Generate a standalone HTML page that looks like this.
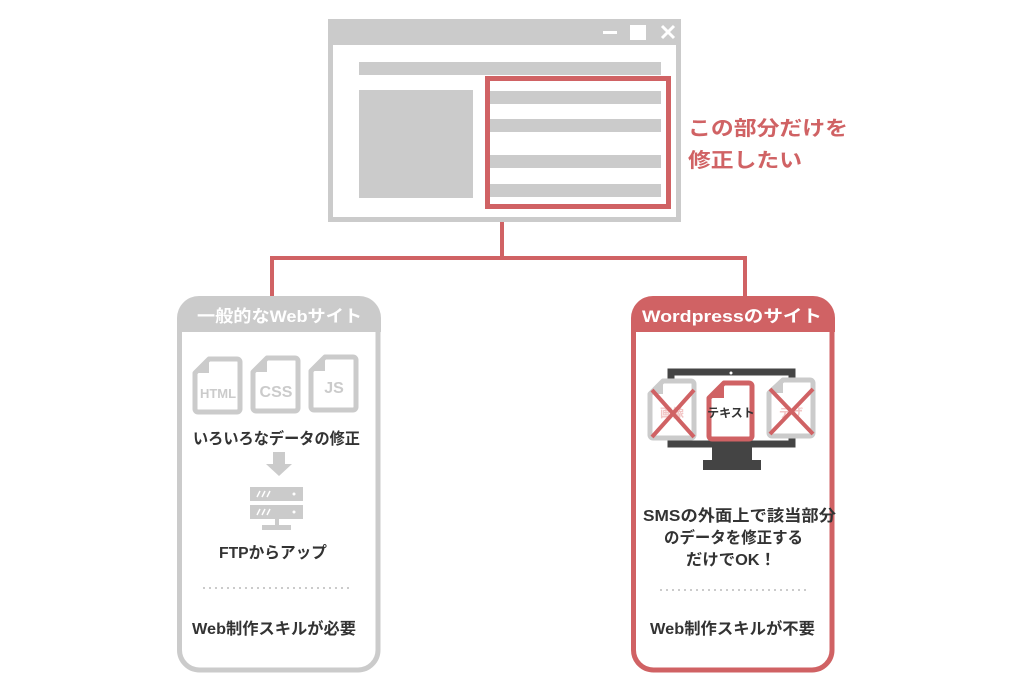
<!DOCTYPE html>
<html><head><meta charset="utf-8"><style>
html,body{margin:0;padding:0;background:#fff;}
svg{display:block}
text{font-family:"Liberation Sans","Noto Sans CJK JP",sans-serif;font-weight:bold}
</style></head><body>
<svg width="1024" height="693" viewBox="0 0 1024 693" xmlns="http://www.w3.org/2000/svg">
<rect x="330.5" y="21.5" width="348" height="198" fill="#fff" stroke="#cbcbcb" stroke-width="5"/>
<rect x="328" y="19" width="353" height="26" fill="#cbcbcb"/>
<rect x="603" y="31" width="14" height="3" fill="#fff"/>
<rect x="630" y="25" width="16" height="15" fill="#fff"/>
<path d="M662 26 L674 38 M674 26 L662 38" stroke="#fff" stroke-width="3"/>
<rect x="359" y="62" width="302" height="13" fill="#cbcbcb"/>
<rect x="359" y="90" width="114" height="108" fill="#cbcbcb"/>
<rect x="489" y="91" width="172" height="13" fill="#cbcbcb"/>
<rect x="489" y="119" width="172" height="13" fill="#cbcbcb"/>
<rect x="489" y="155" width="172" height="13" fill="#cbcbcb"/>
<rect x="489" y="184" width="172" height="13" fill="#cbcbcb"/>
<rect x="487.5" y="78.5" width="181" height="128" fill="none" stroke="#d06264" stroke-width="5"/>
<text x="688" y="135" font-size="20" fill="#d06264" textLength="160" lengthAdjust="spacingAndGlyphs">この部分だけを</text>
<text x="688" y="167" font-size="20" fill="#d06264" textLength="114" lengthAdjust="spacingAndGlyphs">修正したい</text>
<path d="M502 222 V258 M272 258 H745 M272 256 V298 M745 256 V298" stroke="#d06264" stroke-width="4" fill="none"/>
<!-- left card -->
<path d="M179.5 332 V650 a20 20 0 0 0 20 20 H358 a20 20 0 0 0 20 -20 V332" fill="#fff" stroke="#cbcbcb" stroke-width="5"/>
<path d="M177 332 V318 a22 22 0 0 1 22 -22 H359 a22 22 0 0 1 22 22 V332 Z" fill="#cbcbcb"/>
<text x="197" y="322" font-size="17" fill="#fff" textLength="165" lengthAdjust="spacingAndGlyphs">一般的なWebサイト</text>
<g fill="#fff" stroke="#cbcbcb" stroke-width="5" stroke-linejoin="round">
<path d="M209 359 H237 a3 3 0 0 1 3 3 V409 a3 3 0 0 1 -3 3 H198 a3 3 0 0 1 -3 -3 V373 Z"/>
<path d="M267 358 H295 a3 3 0 0 1 3 3 V408 a3 3 0 0 1 -3 3 H256 a3 3 0 0 1 -3 -3 V372 Z"/>
<path d="M325 357 H353 a3 3 0 0 1 3 3 V407 a3 3 0 0 1 -3 3 H314 a3 3 0 0 1 -3 -3 V371 Z"/>
</g>
<g fill="#cbcbcb"><path d="M195 373 L209 359 V373 Z"/><path d="M253 372 L267 358 V372 Z"/><path d="M311 371 L325 357 V371 Z"/></g>
<text x="218" y="398" font-size="13" fill="#cbcbcb" text-anchor="middle">HTML</text>
<text x="276" y="397" font-size="16" fill="#cbcbcb" text-anchor="middle">CSS</text>
<text x="334" y="393" font-size="16" fill="#cbcbcb" text-anchor="middle">JS</text>
<text x="193" y="444" font-size="16" fill="#333" textLength="167" lengthAdjust="spacingAndGlyphs">いろいろなデータの修正</text>
<path d="M273 452 H285 V464 H292 L279 476 L266 464 H273 Z" fill="#cbcbcb"/>
<rect x="250" y="487" width="53" height="14" fill="#cbcbcb"/>
<rect x="250" y="505" width="53" height="14" fill="#cbcbcb"/>
<rect x="275" y="519" width="4" height="8" fill="#cbcbcb"/>
<rect x="262" y="525" width="29" height="5" fill="#cbcbcb"/>
<g stroke="#fff" stroke-width="1.5"><path d="M257 497 l3 -6 M262 497 l3 -6 M267 497 l3 -6 M257 515 l3 -6 M262 515 l3 -6 M267 515 l3 -6"/></g>
<circle cx="294" cy="494" r="1.5" fill="#fff"/><circle cx="294" cy="512" r="1.5" fill="#fff"/>
<text x="219" y="558" font-size="16" fill="#333" textLength="108" lengthAdjust="spacingAndGlyphs">FTPからアップ</text>
<line x1="203" y1="588" x2="352" y2="588" stroke="#cbcbcb" stroke-width="2" stroke-dasharray="2 4"/>
<text x="192" y="634" font-size="16" fill="#333" textLength="164" lengthAdjust="spacingAndGlyphs">Web制作スキルが必要</text>
<!-- right card -->
<path d="M633.5 332 V650 a20 20 0 0 0 20 20 H812 a20 20 0 0 0 20 -20 V332" fill="#fff" stroke="#d06264" stroke-width="5"/>
<path d="M631 332 V318 a22 22 0 0 1 22 -22 H813 a22 22 0 0 1 22 22 V332 Z" fill="#d06264"/>
<text x="642" y="322" font-size="17" fill="#fff" textLength="180" lengthAdjust="spacingAndGlyphs">Wordpressのサイト</text>
<rect x="671" y="372" width="121" height="72" fill="#fff" stroke="#444" stroke-width="7"/>
<circle cx="731" cy="373" r="1.5" fill="#fff"/>
<rect x="712" y="447" width="40" height="13" fill="#444"/>
<rect x="703" y="460" width="58" height="10" fill="#444"/>
<g stroke-width="5" stroke-linejoin="round" fill="#fff">
<path d="M663 381 H691 a3 3 0 0 1 3 3 V435 a3 3 0 0 1 -3 3 H653 a3 3 0 0 1 -3 -3 V394 Z" stroke="#cbcbcb"/>
<path d="M783 380 H810 a3 3 0 0 1 3 3 V433 a3 3 0 0 1 -3 3 H772 a3 3 0 0 1 -3 -3 V393 Z" stroke="#cbcbcb"/>
<path d="M724 383 H749 a3 3 0 0 1 3 3 V436 a3 3 0 0 1 -3 3 H712 a3 3 0 0 1 -3 -3 V398 Z" stroke="#d06264"/>
</g>
<path d="M650 394 L663 381 V394 Z" fill="#cbcbcb"/>
<path d="M769 393 L783 380 V393 Z" fill="#cbcbcb"/>
<path d="M709 398 L724 383 V398 Z" fill="#d06264"/>
<text x="672" y="417" font-size="12" fill="#f2c4c4" text-anchor="middle">画像</text>
<text x="791" y="417" font-size="12" fill="#f2c4c4" text-anchor="middle">デザ</text>
<text x="731" y="417" font-size="12" fill="#333" text-anchor="middle">テキスト</text>
<path d="M652 390 L694 437 M694 390 L652 437 M770 389 L813 434 M813 389 L770 434" stroke="#d06264" stroke-width="4"/>
<text x="643" y="521" font-size="16" fill="#333" textLength="193" lengthAdjust="spacingAndGlyphs">SMSの外面上で該当部分</text>
<text x="664" y="543" font-size="16" fill="#333" textLength="139" lengthAdjust="spacingAndGlyphs">のデータを修正する</text>
<text x="686" y="565" font-size="16" fill="#333" textLength="90" lengthAdjust="spacingAndGlyphs">だけでOK！</text>
<line x1="660" y1="590" x2="810" y2="590" stroke="#cbcbcb" stroke-width="2" stroke-dasharray="2 4"/>
<text x="650" y="634" font-size="16" fill="#333" textLength="165" lengthAdjust="spacingAndGlyphs">Web制作スキルが不要</text>
</svg>
</body></html>
